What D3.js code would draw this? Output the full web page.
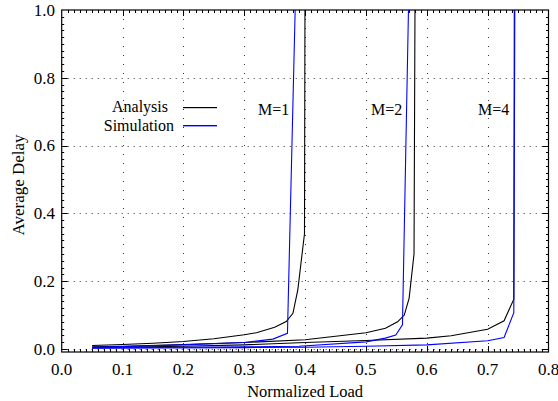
<!DOCTYPE html>
<html>
<head>
<meta charset="utf-8">
<script src="https://cdn.jsdelivr.net/npm/d3@7"></script>
<style>
  body { margin: 0; background: #fff; }
</style>
</head>
<body>
<div id="chart"></div>
<script>
// ---- data ----
var xTicks = [0.0, 0.1, 0.2, 0.3, 0.4, 0.5, 0.6, 0.7, 0.8];
var yTicks = [0.0, 0.2, 0.4, 0.6, 0.8, 1.0];

// Analysis (black)
var anaM1x = [0.05, 0.10, 0.15, 0.20, 0.25, 0.30, 0.32, 0.35, 0.369, 0.38, 0.388, 0.399, 0.400];
var anaM1y = [0.010, 0.013, 0.017, 0.022, 0.030, 0.042, 0.048, 0.064, 0.081, 0.105, 0.174, 0.340, 1.200];
var anaM2x = [0.05, 0.10, 0.20, 0.30, 0.40, 0.50, 0.532, 0.552, 0.563, 0.571, 0.579, 0.581];
var anaM2y = [0.006, 0.008, 0.013, 0.019, 0.027, 0.048, 0.061, 0.080, 0.100, 0.150, 0.280, 1.200];
var anaM4x = [0.05, 0.20, 0.30, 0.40, 0.50, 0.60, 0.64, 0.70, 0.727, 0.743, 0.744];
var anaM4y = [0.004, 0.008, 0.012, 0.019, 0.025, 0.032, 0.039, 0.058, 0.083, 0.147, 1.200];

// Simulation (blue)
var simM1x = [0.05, 0.10, 0.20, 0.30, 0.347, 0.371, 0.385];
var simM1y = [0.005, 0.007, 0.012, 0.019, 0.029, 0.046, 1.100];
var simM2x = [0.05, 0.20, 0.30, 0.39, 0.50, 0.532, 0.549, 0.560, 0.572];
var simM2y = [0.003, 0.005, 0.006, 0.008, 0.021, 0.032, 0.041, 0.071, 1.200];
var simM4x = [0.05, 0.30, 0.40, 0.50, 0.60, 0.70, 0.727, 0.743, 0.745];
var simM4y = [0.002, 0.004, 0.005, 0.008, 0.012, 0.024, 0.034, 0.107, 1.200];

var mLabels = ["M=1", "M=2", "M=4"];
var legendNames = ["Analysis", "Simulation"];

// ---- layout ----
var width = 558, height = 401;
var x0 = 61.7, x1 = 548.5, yTop = 10, yBot = 352;
var FONT = 'Liberation Serif';
var BLUE = '#0000ff';

var svg = d3.select('#chart').append('svg')
  .attr('width', width).attr('height', height)
  .style('font-family', FONT);

var x = d3.scaleLinear().domain([0, 0.8]).range([x0, x1]);
var y = d3.scaleLinear().domain([-0.009, 1.0]).range([yBot, yTop]);

svg.append('clipPath').attr('id', 'plot-clip')
  .append('rect').attr('x', x0).attr('y', yTop).attr('width', x1 - x0).attr('height', yBot - yTop);

// grid
var grid = svg.append('g').attr('stroke', '#333').attr('stroke-width', 1);
xTicks.slice(1, -1).forEach(function (t) {
  grid.append('line')
    .attr('x1', Math.round(x(t)) + 0.5).attr('x2', Math.round(x(t)) + 0.5)
    .attr('y1', yTop).attr('y2', yBot)
    .attr('stroke-dasharray', '1,8');
});
yTicks.slice(0, -1).forEach(function (t) {
  grid.append('line')
    .attr('x1', x0).attr('x2', x1)
    .attr('y1', Math.round(y(t)) + 0.5).attr('y2', Math.round(y(t)) + 0.5)
    .attr('stroke-dasharray', '1,5');
});

// minor + major ticks, inward on all four sides
var ticks = svg.append('g').attr('stroke', '#000').attr('stroke-width', 1);
d3.range(1, 80).forEach(function (i) {
  var px = Math.round(x(i / 100)) + 0.5;
  var len = i % 10 === 0 ? 6 : 3;
  ticks.append('line').attr('x1', px).attr('x2', px).attr('y1', yBot).attr('y2', yBot - len);
  ticks.append('line').attr('x1', px).attr('x2', px).attr('y1', yTop).attr('y2', yTop + len);
});
d3.range(0, 100, 2).forEach(function (i) {
  var py = Math.round(y(i / 100)) + 0.5;
  var len = i % 20 === 0 ? 6 : 2.5;
  ticks.append('line').attr('x1', x0).attr('x2', x0 + len).attr('y1', py).attr('y2', py);
  ticks.append('line').attr('x1', x1).attr('x2', x1 - len).attr('y1', py).attr('y2', py);
});

// frame
svg.append('rect')
  .attr('x', x0).attr('y', yTop).attr('width', x1 - x0).attr('height', yBot - yTop)
  .attr('fill', 'none').attr('stroke', '#000').attr('stroke-width', 1.2);

// tick labels
svg.append('g').selectAll('text').data(xTicks).enter().append('text')
  .attr('x', function (d) { return x(d); })
  .attr('y', 375)
  .attr('text-anchor', 'middle')
  .attr('font-size', 17)
  .text(function (d) { return d3.format('.1f')(d); });

svg.append('g').selectAll('text').data(yTicks).enter().append('text')
  .attr('x', 55)
  .attr('y', function (d) { return y(d); })
  .attr('dy', '0.34em')
  .attr('text-anchor', 'end')
  .attr('font-size', 17)
  .text(function (d) { return d3.format('.1f')(d); });

// axis titles
svg.append('text')
  .attr('x', (x0 + x1) / 2).attr('y', 397)
  .attr('text-anchor', 'middle').attr('font-size', 16.5)
  .text('Normalized Load');

svg.append('text')
  .attr('transform', 'translate(24,185) rotate(-90)')
  .attr('text-anchor', 'middle').attr('font-size', 17)
  .text('Average Delay');

// curves
var line = d3.line()
  .x(function (d) { return x(d[0]); })
  .y(function (d) { return y(d[1]); });

var series = [
  { xs: anaM1x, ys: anaM1y, color: '#000' },
  { xs: anaM2x, ys: anaM2y, color: '#000' },
  { xs: anaM4x, ys: anaM4y, color: '#000' },
  { xs: simM1x, ys: simM1y, color: BLUE },
  { xs: simM2x, ys: simM2y, color: BLUE },
  { xs: simM4x, ys: simM4y, color: BLUE }
];

var curves = svg.append('g').attr('clip-path', 'url(#plot-clip)');
series.forEach(function (s) {
  curves.append('path')
    .datum(d3.zip(s.xs, s.ys))
    .attr('fill', 'none')
    .attr('stroke', s.color)
    .attr('stroke-width', 1.1)
    .attr('d', line);
});

// legend
var legend = svg.append('g');
legend.append('text')
  .attr('x', 168).attr('y', 112)
  .attr('text-anchor', 'end').attr('font-size', 16)
  .text(legendNames[0]);
legend.append('rect')
  .attr('x', 183).attr('y', 107).attr('width', 34).attr('height', 1.2)
  .attr('fill', '#000');
legend.append('text')
  .attr('x', 174).attr('y', 131)
  .attr('text-anchor', 'end').attr('font-size', 16)
  .text(legendNames[1]);
legend.append('rect')
  .attr('x', 183).attr('y', 125).attr('width', 34).attr('height', 1.4)
  .attr('fill', BLUE);

// M labels
var mPos = [258, 371, 478];
mLabels.forEach(function (m, i) {
  svg.append('text')
    .attr('x', mPos[i]).attr('y', 115)
    .attr('font-size', 16)
    .text(m);
});
</script>
</body>
</html>
